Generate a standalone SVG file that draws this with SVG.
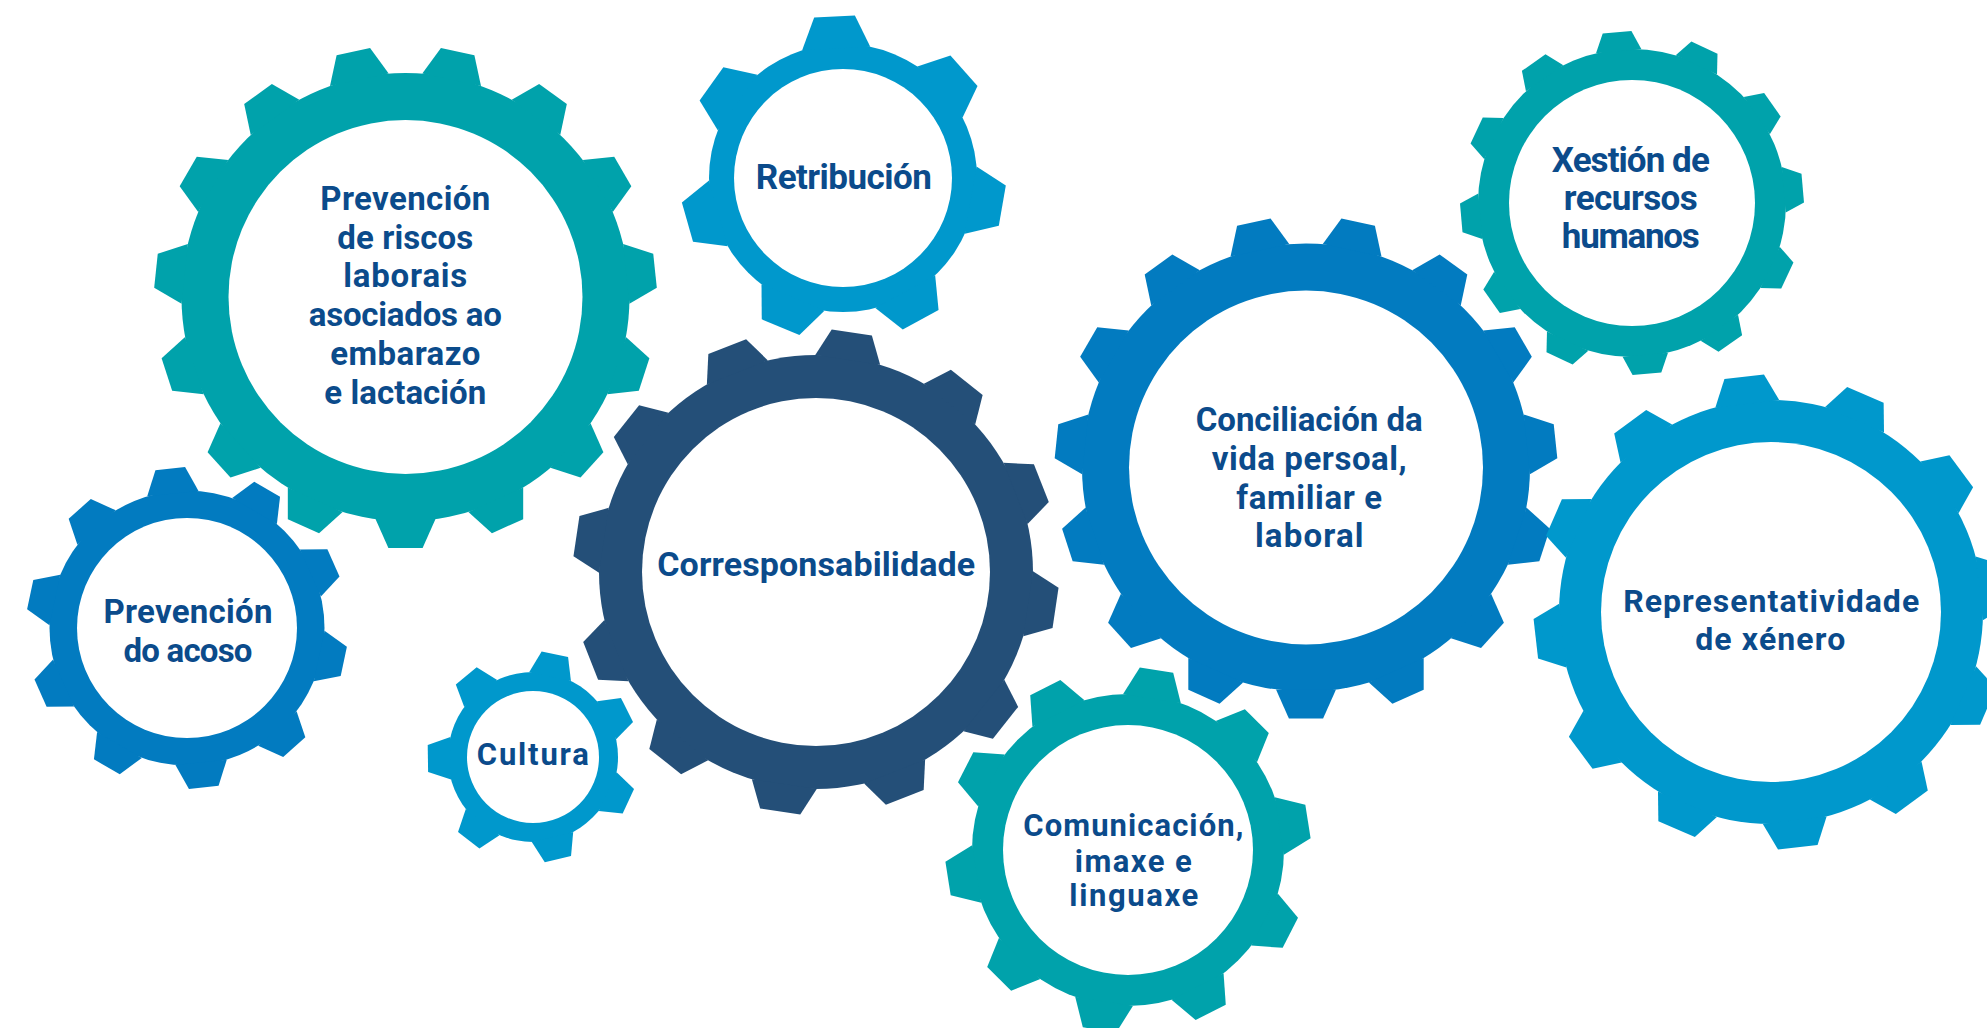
<svg xmlns="http://www.w3.org/2000/svg" xmlns:xlink="http://www.w3.org/1999/xlink" width="1987" height="1028" viewBox="0 0 1987 1028">
<style>
.teal{fill:#00a2ab}
.lblue{fill:#0098cc}
.blue{fill:#027bc0}
.navy{fill:#244f78}
.hole{fill:#ffffff}
.lbl{font-family:Roboto,"Liberation Sans",sans-serif;font-weight:700;fill:#0b4b8b;text-anchor:middle}
</style>
<defs>
<polygon id="tA" points="-30,-222 -17.1,-250.9 17.1,-250.9 30,-222"/>
<polygon id="t2" points="-34.1,-129.6 -20.4,-161.7 20.4,-161.7 34.1,-129.6"/>
<polygon id="t8" points="-21.3,-82.3 -13.5,-105.1 13.5,-105.1 21.3,-82.3"/>
<polygon id="t3" points="-22.8,-152.3 -14.4,-171.4 14.4,-171.4 22.8,-152.3"/>
<polygon id="t4" points="-32.8,-214.5 -20.3,-242.2 20.3,-242.2 32.8,-214.5"/>
<polygon id="t6" points="-32.1,-209.6 -19.9,-236.7 19.9,-236.7 32.1,-209.6"/>
<polygon id="t7" points="-25.8,-135.1 -14.9,-160.3 14.9,-160.3 25.8,-135.1"/>
<polygon id="t9" points="-29.2,-153.2 -16.9,-182.2 16.9,-182.2 29.2,-153.2"/>
</defs>
<rect width="1987" height="1028" fill="#ffffff"/>
<g id="connectors"/>

<g id="gear-prevencion-riscos">
<g class="teal" transform="translate(405.5,297)">
<circle r="224"/>
<use href="#tA" transform="rotate(12)"/><use href="#tA" transform="rotate(36)"/><use href="#tA" transform="rotate(60)"/><use href="#tA" transform="rotate(84)"/><use href="#tA" transform="rotate(108)"/><use href="#tA" transform="rotate(132)"/><use href="#tA" transform="rotate(156)"/><use href="#tA" transform="rotate(180)"/><use href="#tA" transform="rotate(204)"/><use href="#tA" transform="rotate(228)"/><use href="#tA" transform="rotate(252)"/><use href="#tA" transform="rotate(276)"/><use href="#tA" transform="rotate(300)"/><use href="#tA" transform="rotate(324)"/><use href="#tA" transform="rotate(348)"/>
<circle class="hole" r="177"/>
</g>
<text class="lbl" font-size="33"><tspan x="405.3" y="210" textLength="170">Prevención</tspan><tspan x="405.3" y="248.7" textLength="136">de riscos</tspan><tspan x="405.3" y="287.4" textLength="124">laborais</tspan><tspan x="405.3" y="326.1" textLength="193">asociados ao</tspan><tspan x="405.3" y="364.8" textLength="150">embarazo</tspan><tspan x="405.3" y="403.5" textLength="162">e lactación</tspan></text>
</g>

<g id="gear-retribucion">
<g class="lblue" transform="translate(843,178)">
<circle r="134"/>
<use href="#t2" transform="rotate(-3)"/><use href="#t2" transform="rotate(48.43)"/><use href="#t2" transform="rotate(99.86)"/><use href="#t2" transform="rotate(151.29)"/><use href="#t2" transform="rotate(202.71)"/><use href="#t2" transform="rotate(254.14)"/><use href="#t2" transform="rotate(305.57)"/>
<circle class="hole" r="109"/>
</g>
<text class="lbl" font-size="35" x="843.8" y="189.3" textLength="176">Retribución</text>
</g>

<g id="gear-xestion">
<g class="teal" transform="translate(1632,203)">
<circle r="154"/>
<use href="#t3" transform="rotate(-5)"/><use href="#t3" transform="rotate(25)"/><use href="#t3" transform="rotate(55)"/><use href="#t3" transform="rotate(85)"/><use href="#t3" transform="rotate(115)"/><use href="#t3" transform="rotate(145)"/><use href="#t3" transform="rotate(175)"/><use href="#t3" transform="rotate(205)"/><use href="#t3" transform="rotate(235)"/><use href="#t3" transform="rotate(265)"/><use href="#t3" transform="rotate(295)"/><use href="#t3" transform="rotate(325)"/>
<circle class="hole" r="123"/>
</g>
<text class="lbl" font-size="35"><tspan x="1630.8" y="172.3" textLength="158">Xestión de</tspan><tspan x="1630.8" y="210.3" textLength="134">recursos</tspan><tspan x="1630.8" y="248.3" textLength="138">humanos</tspan></text>
</g>

<g id="gear-corresponsabilidade">
<g class="navy" transform="translate(816,572)">
<circle r="217"/>
<use href="#t4" transform="rotate(8.5)"/><use href="#t4" transform="rotate(38.5)"/><use href="#t4" transform="rotate(68.5)"/><use href="#t4" transform="rotate(98.5)"/><use href="#t4" transform="rotate(128.5)"/><use href="#t4" transform="rotate(158.5)"/><use href="#t4" transform="rotate(188.5)"/><use href="#t4" transform="rotate(218.5)"/><use href="#t4" transform="rotate(248.5)"/><use href="#t4" transform="rotate(278.5)"/><use href="#t4" transform="rotate(308.5)"/><use href="#t4" transform="rotate(338.5)"/>
<circle class="hole" r="174"/>
</g>
<text class="lbl" font-size="34" x="816.2" y="576" textLength="318">Corresponsabilidade</text>
</g>

<g id="gear-conciliacion">
<g class="blue" transform="translate(1306,467.5)">
<circle r="224"/>
<use href="#tA" transform="rotate(12)"/><use href="#tA" transform="rotate(36)"/><use href="#tA" transform="rotate(60)"/><use href="#tA" transform="rotate(84)"/><use href="#tA" transform="rotate(108)"/><use href="#tA" transform="rotate(132)"/><use href="#tA" transform="rotate(156)"/><use href="#tA" transform="rotate(180)"/><use href="#tA" transform="rotate(204)"/><use href="#tA" transform="rotate(228)"/><use href="#tA" transform="rotate(252)"/><use href="#tA" transform="rotate(276)"/><use href="#tA" transform="rotate(300)"/><use href="#tA" transform="rotate(324)"/><use href="#tA" transform="rotate(348)"/>
<circle class="hole" r="177"/>
</g>
<text class="lbl" font-size="33"><tspan x="1309.2" y="431.4" textLength="227">Conciliación da</tspan><tspan x="1309.2" y="470" textLength="195">vida persoal,</tspan><tspan x="1309.2" y="508.6" textLength="146">familiar e</tspan><tspan x="1309.2" y="547.4" textLength="108.5">laboral</tspan></text>
</g>

<g id="gear-representatividade">
<g class="lblue" transform="translate(1771,612)">
<circle r="212"/>
<use href="#t6" transform="rotate(-6.5)"/><use href="#t6" transform="rotate(23.5)"/><use href="#t6" transform="rotate(53.5)"/><use href="#t6" transform="rotate(83.5)"/><use href="#t6" transform="rotate(113.5)"/><use href="#t6" transform="rotate(143.5)"/><use href="#t6" transform="rotate(173.5)"/><use href="#t6" transform="rotate(203.5)"/><use href="#t6" transform="rotate(233.5)"/><use href="#t6" transform="rotate(263.5)"/><use href="#t6" transform="rotate(293.5)"/><use href="#t6" transform="rotate(323.5)"/>
<circle class="hole" r="170"/>
</g>
<text class="lbl" font-size="32"><tspan x="1771.2" y="611.7" textLength="296">Representatividade</tspan><tspan x="1770.2" y="650" textLength="150">de xénero</tspan></text>
</g>

<g id="gear-prevencion-acoso">
<g class="blue" transform="translate(187,628)">
<circle r="137.5"/>
<use href="#t7" transform="rotate(-6)"/><use href="#t7" transform="rotate(30)"/><use href="#t7" transform="rotate(66)"/><use href="#t7" transform="rotate(102)"/><use href="#t7" transform="rotate(138)"/><use href="#t7" transform="rotate(174)"/><use href="#t7" transform="rotate(210)"/><use href="#t7" transform="rotate(246)"/><use href="#t7" transform="rotate(282)"/><use href="#t7" transform="rotate(318)"/>
<circle class="hole" r="110"/>
</g>
<text class="lbl" font-size="33"><tspan x="188" y="623.3" textLength="169">Prevención</tspan><tspan x="188" y="662.3" textLength="129">do acoso</tspan></text>
</g>

<g id="gear-cultura">
<g class="lblue" transform="translate(533,757)">
<circle r="85"/>
<use href="#t8" transform="rotate(12)"/><use href="#t8" transform="rotate(63.43)"/><use href="#t8" transform="rotate(114.86)"/><use href="#t8" transform="rotate(166.29)"/><use href="#t8" transform="rotate(217.71)"/><use href="#t8" transform="rotate(269.14)"/><use href="#t8" transform="rotate(320.57)"/>
<circle class="hole" r="66"/>
</g>
<text class="lbl" font-size="31" x="532.8" y="765" textLength="112">Cultura</text>
</g>

<g id="gear-comunicacion">
<g class="teal" transform="translate(1128,850)">
<circle r="156"/>
<use href="#t9" transform="rotate(9)"/><use href="#t9" transform="rotate(45)"/><use href="#t9" transform="rotate(81)"/><use href="#t9" transform="rotate(117)"/><use href="#t9" transform="rotate(153)"/><use href="#t9" transform="rotate(189)"/><use href="#t9" transform="rotate(225)"/><use href="#t9" transform="rotate(261)"/><use href="#t9" transform="rotate(297)"/><use href="#t9" transform="rotate(333)"/>
<circle class="hole" r="125"/>
</g>
<text class="lbl" font-size="31"><tspan x="1133.3" y="835.7" textLength="220">Comunicación,</tspan><tspan x="1133.3" y="871.7" textLength="117">imaxe e</tspan><tspan x="1133.8" y="906" textLength="129">linguaxe</tspan></text>
</g>
</svg>
